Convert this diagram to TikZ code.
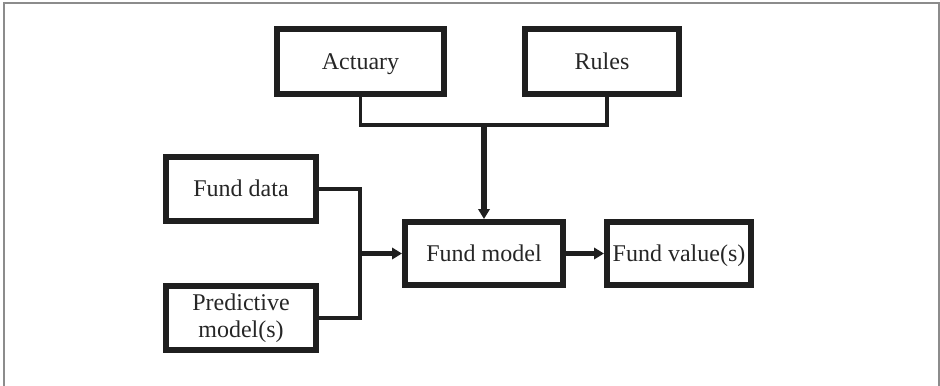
\documentclass[tikz,border=0pt]{standalone}
\usepackage{fontspec}
\setmainfont{Liberation Serif}
\usetikzlibrary{arrows.meta}
\begin{document}
\begin{tikzpicture}[x=0.75pt,y=-0.75pt,
  block/.style={draw=black!88,line width=4.5pt,rectangle,inner sep=0pt,
    align=center,font=\fontsize{18}{20}\selectfont,text=black!85},
  oneline/.style={text height=11.9pt,text depth=0pt},
  link/.style={draw=black!88,line width=2.4pt},
  feed/.style={draw=black!88,line width=3.8pt,
    -{Triangle[length=7.5pt,width=8.5pt]}}]
  % page area and the open frame
  \useasboundingbox (0,0) rectangle (940,386);
  \draw[black!45,line width=1.5pt] (4,390) -- (4,3) -- (939,3) -- (939,390);

  % blocks
  \node[block,oneline,minimum width=125.25pt,minimum height=48.75pt] (act) at (360.5,61.5) {Actuary};
  \node[block,oneline,minimum width=115.5pt,minimum height=48.75pt] (rules) at (602,61.5) {Rules};
  \node[block,oneline,minimum width=112.5pt,minimum height=48pt] (data) at (241,189) {Fund data};
  \node[block,minimum width=112.5pt,minimum height=48pt] (pred) at (241,318) {Predictive\\model(s)};
  \node[block,oneline,minimum width=118.5pt,minimum height=47.25pt] (model) at (484,253.5) {Fund model};
  \node[block,oneline,minimum width=108pt,minimum height=47.25pt] (value) at (679,253.5) {Fund value(s)};

  % junction points
  \coordinate (top) at (484,125);
  \coordinate (merge) at (360,253.5);

  % connectors
  \draw[link] (act.south) |- (top) -| ([xshift=3.75pt]rules.south);
  \draw[link] (data.east) -| (merge) |- (pred.east);
  \draw[feed] (top) -- (model.north);
  \draw[feed] (merge) -- (model.west);
  \draw[feed] (model.east) -- (value.west);
\end{tikzpicture}
\end{document}
